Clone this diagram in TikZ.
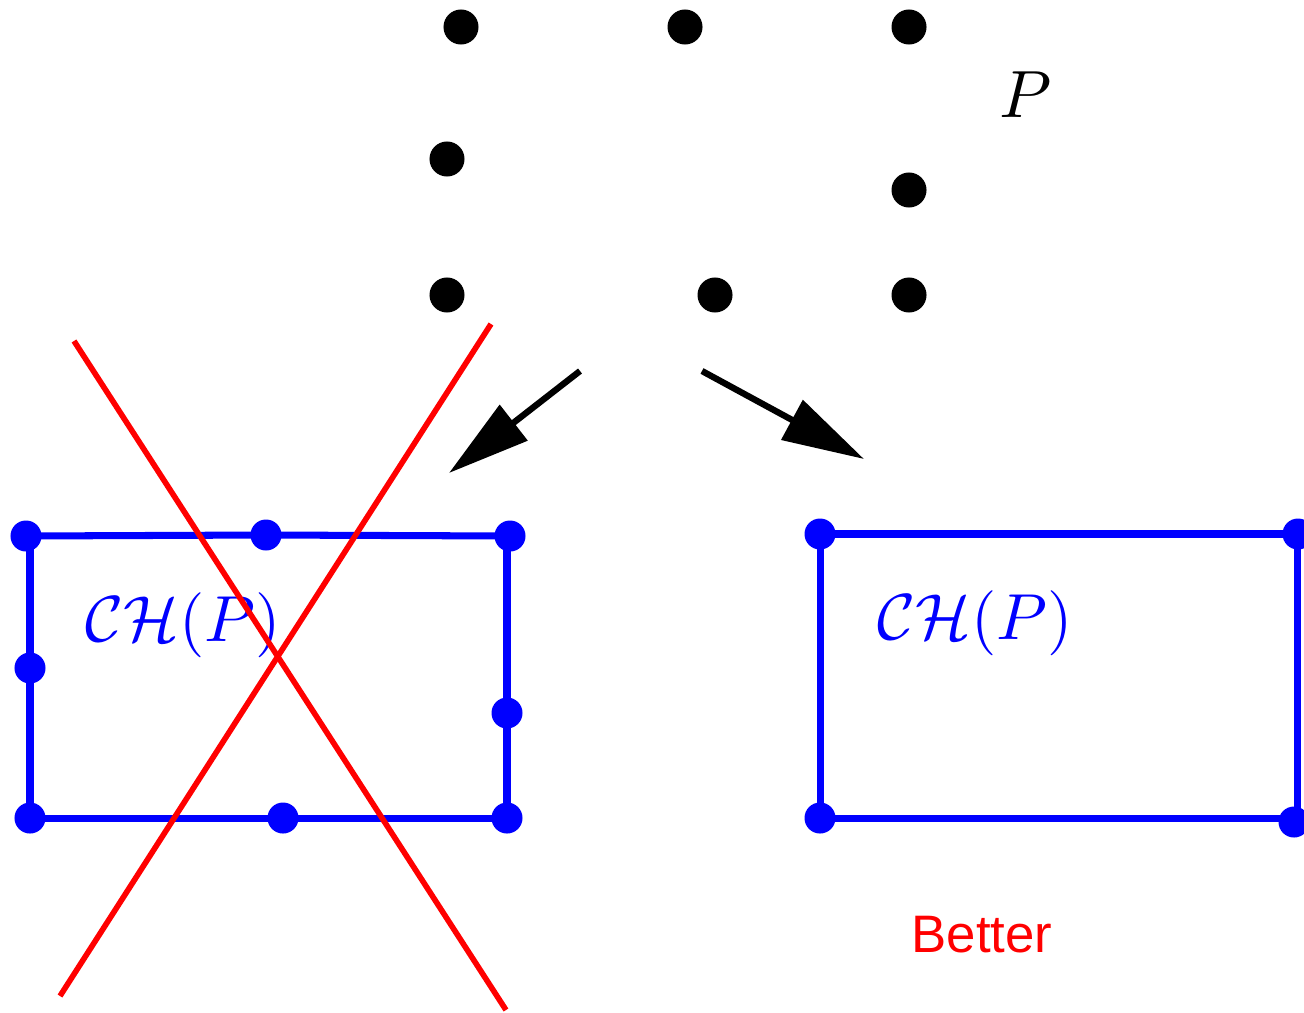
\documentclass[tikz,border=0pt]{standalone}
\usepackage{fontspec}
\newfontfamily\helv{Liberation Sans}
\usetikzlibrary{arrows.meta}
\begin{document}
\begin{tikzpicture}[x={(0.01cm,0)},y={(0,-0.01cm)},
  pt/.style={circle,fill=black,inner sep=0pt,minimum size=0.35cm},
  bpt/.style={circle,fill=blue,inner sep=0pt,minimum size=0.31cm},
  edge/.style={blue,line width=2pt},
  cross/.style={red,line width=1.6pt},
  arr/.style={line width=1.8pt,-{Triangle[length=8.2mm,width=4.4mm]}}]
\useasboundingbox (0,0) rectangle (1304,1012);
% point set P
\node[pt] (p1) at (461,27) {};
\node[pt] (p2) at (685,27) {};
\node[pt] (p3) at (909,27) {};
\node[pt] (p4) at (447,159) {};
\node[pt] (p5) at (909,190) {};
\node[pt] (p6) at (447,295) {};
\node[pt] (p7) at (715,295) {};
\node[pt] (p8) at (909,295) {};
\node (lP) at (1026,95) {\scalebox{1.9}{$P$}};
% arrows
\coordinate (a1s) at (580,371);
\coordinate (a1e) at (449,473);
\coordinate (a2s) at (702,371);
\coordinate (a2e) at (864,459);
\draw[arr] (a1s) -- (a1e);
\draw[arr] (a2s) -- (a2e);
% left hull
\coordinate (l1) at (26,536);
\coordinate (l2) at (266,535);
\coordinate (l3) at (510,536);
\coordinate (l4) at (30,668);
\coordinate (l5) at (507,713);
\coordinate (l6) at (30,818);
\coordinate (l7) at (283,818);
\coordinate (l8) at (507,818);
\draw[edge] (l1) -- (l2) -- (l3);
\draw[edge] (l1) ++(4,0) -- (l4) -- (l6);
\draw[edge] (l3) ++(-3,0) -- (l5) -- (l8);
\draw[edge] (l6) -- (l7) -- (l8);
\foreach \c in {l1,l2,l3,l4,l5,l6,l7,l8} \node[bpt] (n\c) at (\c) {};
\node[blue] (lch) at (183,625) {\scalebox{1.85}{$\mathcal{CH}(P)$}};
% right hull
\coordinate (r1) at (820,534);
\coordinate (r2) at (1297,534);
\coordinate (r3) at (820,818);
\coordinate (r4) at (1297,818);
\draw[edge] (r1) -- (r2) -- (r4) -- (r3) -- cycle;
\node[bpt] (nr1) at (r1) {};
\node[bpt] (nr2) at (1298,534) {};
\node[bpt] (nr3) at (r3) {};
\node[bpt] (nr4) at (1294,822) {};
\node[blue] (rch) at (975,623) {\scalebox{1.85}{$\mathcal{CH}(P)$}};
% cross
\coordinate (c1s) at (74,341);
\coordinate (c1e) at (506,1010);
\coordinate (c2s) at (491,324);
\coordinate (c2e) at (60,996);
\draw[cross] (c1s) -- (c1e);
\draw[cross] (c2s) -- (c2e);
\node[red,font=\helv\fontsize{15}{18}\selectfont] (better) at (982,935) {Better};
\end{tikzpicture}
\end{document}
